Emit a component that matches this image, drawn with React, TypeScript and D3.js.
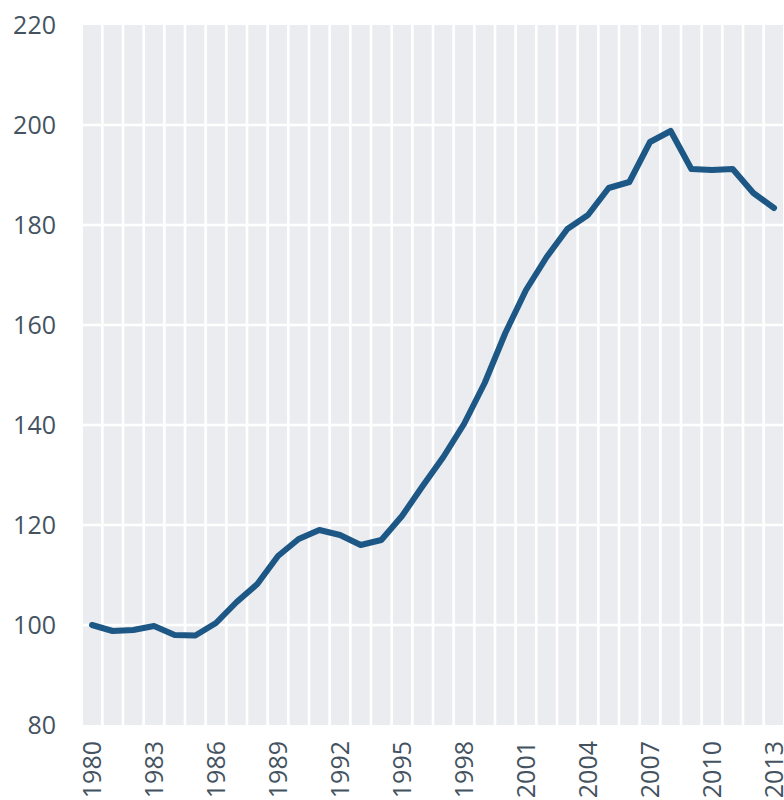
import * as d3 from "d3";

const years = d3.range(1980, 2014);
const values = [
  100, 98.8, 99, 99.8, 98, 97.9, 100.4, 104.6, 108.2, 113.8,
  117.2, 119, 118, 116, 117, 121.8, 127.8, 133.6, 140.2, 148.4,
  158.4, 167, 173.6, 179.2, 182, 187.4, 188.6, 196.6, 198.8, 191.2,
  191, 191.2, 186.4, 183.4,
];
const yTicks = [80, 100, 120, 140, 160, 180, 200, 220];
const xTickYears = years.filter((y) => (y - 1980) % 3 === 0);

const width = 784;
const height = 800;
const margin = { left: 83, right: 1, top: 25, bottom: 75 };

const font = "'Open Sans', 'Noto Sans', sans-serif";
const textColor = "#44535f";

export default function App() {
  const x = d3
    .scaleBand<number>()
    .domain(years)
    .range([margin.left, width - margin.right])
    .paddingInner(0.13)
    .paddingOuter(0);
  const y = d3
    .scaleLinear()
    .domain([80, 220])
    .range([height - margin.bottom, margin.top]);

  const cx = (yr: number) => (x(yr) ?? 0) + x.bandwidth() / 2;

  const line = d3
    .line<number>()
    .x((_, i) => cx(years[i]))
    .y((d) => y(d));

  return (
    <svg
      width={width}
      height={height}
      viewBox={`0 0 ${width} ${height}`}
      style={{ position: "absolute", left: 0, top: 0, background: "#fff" }}
    >
      {/* grey year bands */}
      <g>
        {years.map((yr) => (
          <rect
            key={yr}
            x={x(yr)}
            y={y(220)}
            width={x.bandwidth()}
            height={y(80) - y(220)}
            fill="#ebecef"
          />
        ))}
      </g>
      {/* horizontal white gridlines */}
      <g>
        {yTicks
          .filter((t) => t > 80 && t < 220)
          .map((t) => (
            <line
              key={t}
              x1={margin.left}
              x2={width}
              y1={y(t)}
              y2={y(t)}
              stroke="#fff"
              strokeWidth={2.6}
            />
          ))}
      </g>
      {/* y labels */}
      <g fontFamily={font} fontSize={25} fill={textColor}>
        {yTicks.map((t) => (
          <text key={t} x={56} y={y(t)} dy="0.35em" textAnchor="end">
            {t}
          </text>
        ))}
      </g>
      {/* x labels */}
      <g fontFamily={font} fontSize={25} fill={textColor}>
        {xTickYears.map((yr) => (
          <text
            key={yr}
            transform={`translate(${cx(yr)},${741}) rotate(-90)`}
            dy="0.35em"
            textAnchor="end"
          >
            {yr}
          </text>
        ))}
      </g>
      <path
        d={line(values) ?? ""}
        fill="none"
        stroke="#1d5785"
        strokeWidth={6}
        strokeLinejoin="round"
        strokeLinecap="round"
      />
    </svg>
  );
}
